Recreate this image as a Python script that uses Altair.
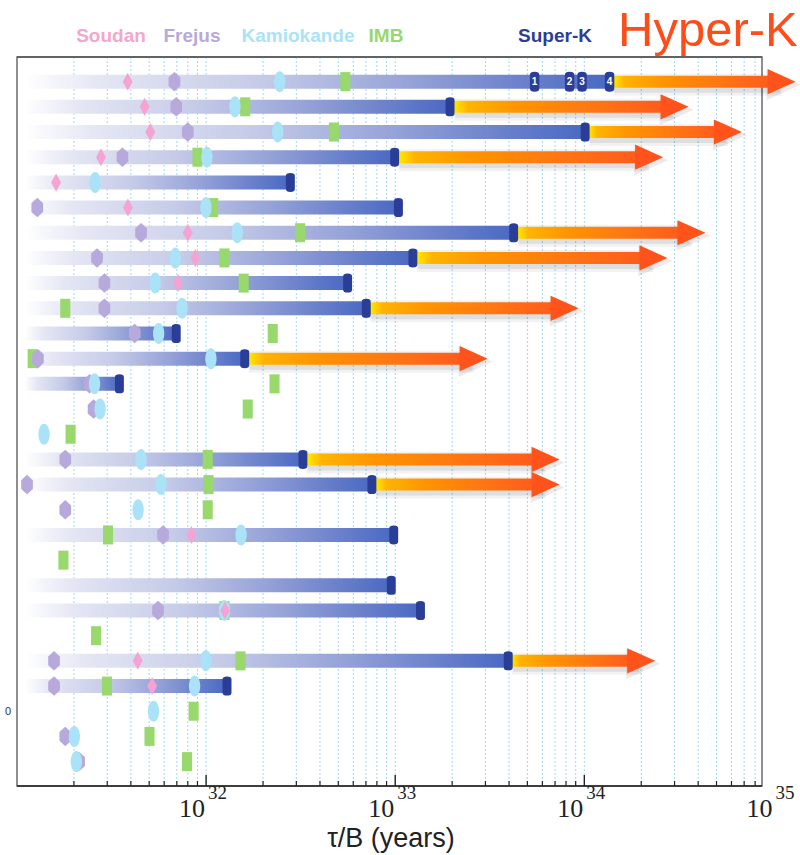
import altair as alt
import pandas as pd

# ---------------- data (tau/B in years, row index from top) ----------------
soudan_rows = [0, 1, 2, 3, 4, 5, 6, 7, 8, 18, 21, 23, 24]
soudan_vals = [3.85e31, 4.73e31, 5.07e31, 2.78e31, 1.61e31, 3.86e31, 8.0e31, 8.77e31,
               7.1e31, 8.36e31, 1.26e32, 4.35e31, 5.18e31]

frejus_rows = [0, 1, 2, 3, 5, 6, 7, 8, 9, 10, 11, 12, 13, 15, 16, 17, 18, 21, 23, 24, 26, 27]
frejus_vals = [6.8e31, 6.95e31, 8.0e31, 3.61e31, 1.28e31, 4.53e31, 2.65e31, 2.90e31, 2.90e31,
               4.19e31, 1.29e31, 2.42e31, 2.54e31, 1.80e31, 1.13e31, 1.80e31, 5.92e31, 5.57e31,
               1.57e31, 1.57e31, 1.80e31, 2.13e31]

kamiokande_rows = [0, 1, 2, 3, 4, 5, 6, 7, 8, 9, 10, 11, 12, 13, 14, 15, 16, 17, 18, 21, 23,
                   24, 25, 26, 27]
kamiokande_vals = [2.45e32, 1.42e32, 2.39e32, 1.01e32, 2.59e31, 9.98e31, 1.46e32, 6.87e31,
                   5.38e31, 7.46e31, 5.61e31, 1.06e32, 2.57e31, 2.75e31, 1.39e31, 4.53e31,
                   5.77e31, 4.37e31, 1.53e32, 1.25e32, 9.98e31, 8.69e31, 5.27e31, 2.01e31, 2.06e31]

imb_rows = [0, 1, 2, 3, 5, 6, 7, 8, 9, 10, 11, 12, 13, 14, 15, 16, 17, 18, 19, 21, 22, 23, 24,
            25, 26, 27]
imb_vals = [5.45e32, 1.61e32, 4.74e32, 9.0e31, 1.09e32, 3.14e32, 1.25e32, 1.58e32, 1.80e31,
            2.25e32, 1.21e31, 2.30e32, 1.66e32, 1.92e31, 1.02e32, 1.03e32, 1.02e32, 3.03e31,
            1.76e31, 1.25e32, 2.62e31, 1.52e32, 2.99e31, 8.59e31, 5.02e31, 7.93e31]

superk_rows = [0, 1, 2, 3, 4, 5, 6, 7, 8, 9, 10, 11, 12, 15, 16, 18, 20, 21, 23, 24]
superk_vals = [1.36e34, 1.95e33, 1.01e34, 9.93e32, 2.79e32, 1.04e33, 4.23e33, 1.24e33, 5.6e32,
               7.03e32, 6.95e31, 1.60e32, 3.48e31, 3.25e32, 7.53e32, 9.82e32, 9.53e32, 1.36e33,
               3.96e33, 1.29e32]

superk_history_vals = [5.46e33, 8.36e33, 9.73e33, 1.36e34]   # row 0, steps 1-4
superk_history_labels = ["1", "2", "3", "4"]

hyperk_rows = [0, 1, 2, 3, 6, 7, 9, 11, 15, 16, 23]
hyperk_vals = [1.31e35, 3.56e34, 6.82e34, 2.61e34, 4.37e34, 2.75e34, 9.33e33, 3.08e33,
               7.40e33, 7.40e33, 2.37e34]

bar_start = 1.1e31

decades = [1e32, 1e33, 1e34, 1e35]
decade_exponents = ["32", "33", "34", "35"]
x_min, x_max = 1e31, 8.7e34

# ---------------- helpers ----------------
W, H = 745, 729
xs = alt.Scale(type="log", domain=[x_min, x_max])
ys = alt.Scale(domain=[-0.78, 27.77], reverse=True)


def X(field="v"):
    return alt.X(f"{field}:Q", scale=xs, axis=None)


def Y():
    return alt.Y("row:Q", scale=ys, axis=None)


one = pd.DataFrame({"a": [0]})

minor_vals = [m * 10.0 ** e for e in (31, 32, 33, 34) for m in range(2, 10)]
minor_vals = [v for v in minor_vals if v < x_max]
major_vals = decades[:3]
grid_df = pd.DataFrame({"v": minor_vals + major_vals})

grid = alt.Chart(grid_df).mark_rule(color="#9fd8f3", strokeDash=[2, 2], strokeWidth=1).encode(
    x=X(), y=alt.value(0), y2=alt.value(H))
minor_ticks = alt.Chart(pd.DataFrame({"v": minor_vals})).mark_rule(color="#222", strokeWidth=1.2).encode(
    x=X(), y=alt.value(H), y2=alt.value(H - 5))
major_ticks = alt.Chart(pd.DataFrame({"v": major_vals})).mark_rule(color="#222", strokeWidth=1.4).encode(
    x=X(), y=alt.value(H), y2=alt.value(H - 11))
axis_line = alt.Chart(one).mark_rule(color="#222", strokeWidth=1.6).encode(
    x=alt.value(0), x2=alt.value(W), y=alt.value(H))
top_line = alt.Chart(one).mark_rule(color="#555", strokeWidth=1.5).encode(
    x=alt.value(0), x2=alt.value(W), y=alt.value(0))

blue_grad = alt.LinearGradient(
    gradient="linear", x1=0, x2=1, y1=0, y2=0,
    stops=[alt.GradientStop(color="#ffffff", offset=0),
           alt.GradientStop(color="#e5e7f4", offset=0.12),
           alt.GradientStop(color="#c6cbe8", offset=0.4),
           alt.GradientStop(color="#97a4d8", offset=0.65),
           alt.GradientStop(color="#6b81cb", offset=0.85),
           alt.GradientStop(color="#4a69c3", offset=1)])
orange_grad = alt.LinearGradient(
    gradient="linear", x1=0, x2=1, y1=0, y2=0,
    stops=[alt.GradientStop(color="#ffee00", offset=0),
           alt.GradientStop(color="#ffb400", offset=0.07),
           alt.GradientStop(color="#ff9500", offset=0.3),
           alt.GradientStop(color="#ff7712", offset=0.65),
           alt.GradientStop(color="#ff5a1c", offset=1)])

sk_df = pd.DataFrame({"row": superk_rows, "v": superk_vals, "start": bar_start})
bars = alt.Chart(sk_df).mark_bar(size=14, color=blue_grad).encode(
    x=X("start"), x2="v:Q", y=Y())

sk_map = dict(zip(superk_rows, superk_vals))
arr_df = pd.DataFrame({"row": hyperk_rows, "hk": hyperk_vals,
                       "sk": [sk_map[r] for r in hyperk_rows]})

head_path = "M -1 -0.9 L 1 0 L -1 0.9 Z"
shadow1 = alt.Chart(arr_df).mark_bar(size=22, color="#000", opacity=0.05, xOffset=4, x2Offset=-14,
                                     yOffset=3).encode(x=X("sk"), x2="hk:Q", y=Y())
shadow2 = alt.Chart(arr_df).mark_bar(size=16, color="#000", opacity=0.08, xOffset=5, x2Offset=-16,
                                     yOffset=3).encode(x=X("sk"), x2="hk:Q", y=Y())
head_shadow = alt.Chart(arr_df).mark_point(shape=head_path, size=34 ** 2, filled=True, color="#000",
                                           opacity=0.08, strokeWidth=0, xOffset=-12, yOffset=3).encode(
    x=X("hk"), y=Y())
shafts = alt.Chart(arr_df).mark_bar(size=12, color=orange_grad, xOffset=3, x2Offset=-22).encode(
    x=X("sk"), x2="hk:Q", y=Y())
heads = alt.Chart(arr_df).mark_point(shape=head_path, size=28 ** 2, filled=True, color="#ff531b",
                                     opacity=1, strokeWidth=0, xOffset=-14).encode(x=X("hk"), y=Y())


def markers(rows, vals, shape, size, color):
    df = pd.DataFrame({"row": rows, "v": vals})
    return alt.Chart(df).mark_point(shape=shape, size=size, filled=True, color=color,
                                    opacity=1, strokeWidth=0).encode(x=X(), y=Y())


diamond = "M 0 -1 L 0.55 0 L 0 1 L -0.55 0 Z"
hexagon = "M 0 -1 L 0.6 -0.45 L 0.6 0.45 L 0 1 L -0.6 0.45 L -0.6 -0.45 Z"
ellipse = ("M 0 -1 C 0.3 -1 0.54 -0.55 0.54 0 C 0.54 0.55 0.3 1 0 1 "
           "C -0.3 1 -0.54 0.55 -0.54 0 C -0.54 -0.55 -0.3 -1 0 -1 Z")
rect = "M -0.53 -1 L 0.53 -1 L 0.53 1 L -0.53 1 Z"
cap = ("M -0.47 -0.7 Q -0.47 -1 0 -1 Q 0.47 -1 0.47 -0.7 L 0.47 0.7 "
       "Q 0.47 1 0 1 Q -0.47 1 -0.47 0.7 Z")

imb_m = markers(imb_rows, imb_vals, rect, 19 ** 2, "#98d86c")
frejus_m = markers(frejus_rows, frejus_vals, hexagon, 19.5 ** 2, "#b8a9dc")
kamio_m = markers(kamiokande_rows, kamiokande_vals, ellipse, 21 ** 2, "#aae3f7")
soudan_m = markers(soudan_rows, soudan_vals, diamond, 18 ** 2, "#f5a3d2")
caps = markers(superk_rows, superk_vals, cap, 19 ** 2, "#2a3e98")

hist_df = pd.DataFrame({"row": 0, "v": superk_history_vals, "t": superk_history_labels})
hist_caps = alt.Chart(hist_df).mark_point(shape=cap, size=20 ** 2, filled=True, color="#2a3e98",
                                          opacity=1, strokeWidth=0).encode(x=X(), y=Y())
hist_text = alt.Chart(hist_df).mark_text(color="white", fontSize=10, fontWeight="bold",
                                         font="Liberation Sans", baseline="middle").encode(
    x=X(), y=Y(), text="t:N")

# ---------------- texts ----------------
dec_df = pd.DataFrame({"v": decades, "e": decade_exponents, "b": "10"})
tick10 = alt.Chart(dec_df).mark_text(align="right", baseline="alphabetic", fontSize=26, dx=-1,
                                     font="Liberation Sans Narrow", color="#222").encode(
    x=X(), y=alt.value(H + 31), text="b:N")
tickexp = alt.Chart(dec_df).mark_text(align="left", baseline="alphabetic", fontSize=19, dx=2,
                                      font="Liberation Sans Narrow", color="#222").encode(
    x=X(), y=alt.value(H + 13), text="e:N")
xtitle = alt.Chart(one).mark_text(fontSize=27, font="Liberation Sans", color="#222",
                                  baseline="alphabetic").encode(
    x=alt.value(374), y=alt.value(H + 61), text=alt.value("τ/B (years)"))


def label(txt, color, x, y, size, weight="bold", align="center"):
    return alt.Chart(one).mark_text(fontSize=size, fontWeight=weight, font="Liberation Sans",
                                    color=color, align=align, baseline="alphabetic").encode(
        x=alt.value(x), y=alt.value(y), text=alt.value(txt))


legend = [
    label("Soudan", "#f3a6cf", 94, -15, 19),
    label("Frejus", "#b8a9dc", 175, -15, 19),
    label("Kamiokande", "#aae3f7", 281, -15, 19),
    label("IMB", "#98d86c", 369, -15, 19),
    label("Super-K", "#2b3f94", 538, -15, 19),
    label("Hyper-K", "#ff4d1a", 601, -11, 49, weight="normal", align="left"),
    label("0", "#333", -12, 658, 11, weight="normal", align="left"),
]

chart = alt.layer(
    grid, minor_ticks, major_ticks, axis_line, top_line, bars,
    shadow1, shadow2, head_shadow, shafts, heads,
    imb_m, frejus_m, kamio_m, soudan_m, caps, hist_caps, hist_text,
    tick10, tickexp, xtitle, *legend
).properties(
    width=W, height=H,
    padding={"left": 17, "top": 57, "right": 38, "bottom": 69},
    autosize=alt.AutoSizeParams(type="none"),
).configure_view(stroke="#6b6b6b", strokeWidth=1.5)

chart.save("out.html", embed_options={"renderer": "svg", "actions": False})
